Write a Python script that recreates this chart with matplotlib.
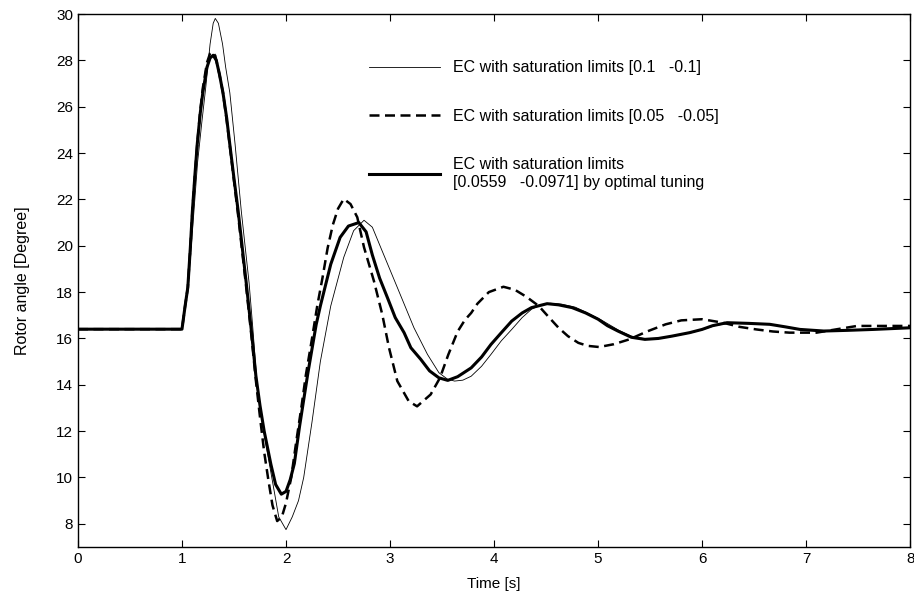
#!/usr/bin/env python3

import matplotlib
matplotlib.use('Agg')
import matplotlib.pyplot as plt

plt.rcParams['font.family'] = ['Liberation Sans', 'DejaVu Sans']

# EC with saturation limits [0.1 -0.1]
t_thin = [0, 1.0, 1.03, 1.06, 1.10, 1.15, 1.19, 1.23, 1.27, 1.30, 1.32, 1.35, 1.39, 1.42,
          1.46, 1.51, 1.57, 1.645, 1.68, 1.72, 1.80, 1.87, 1.93, 2.0, 2.06, 2.12, 2.17,
          2.25, 2.33, 2.43, 2.555, 2.65, 2.75, 2.83, 2.91, 3.07, 3.23, 3.36, 3.47, 3.55,
          3.62, 3.70, 3.78, 3.88, 3.97, 4.07, 4.17, 4.27, 4.36,
          4.45, 4.54, 4.65, 4.78, 4.90, 5.03, 5.2, 5.32, 5.47, 5.6, 5.73, 5.9, 6.02,
          6.12, 6.26, 6.45, 6.66, 6.82, 6.96, 7.18, 7.4, 7.65, 8.0]
y_thin = [16.4, 16.4, 17.3, 18.2, 20.6, 23.6, 25.3, 26.9, 28.7, 29.6, 29.81, 29.6, 28.7, 27.7,
          26.6, 24.4, 21.5, 18.4, 16.5, 14.16, 11.6, 9.83, 8.3, 7.75, 8.3, 9.0, 10.0,
          12.4, 15.0, 17.4, 19.5, 20.65, 21.1, 20.8, 19.93, 18.2, 16.46, 15.31, 14.52, 14.25,
          14.16, 14.2, 14.37, 14.8, 15.31, 15.9, 16.39, 16.9, 17.26,
          17.45, 17.52, 17.48, 17.35, 17.1, 16.8, 16.35, 16.1, 15.97, 16.0, 16.1, 16.25, 16.4,
          16.55, 16.66, 16.65, 16.6, 16.5, 16.39, 16.32, 16.35, 16.39, 16.46]

# EC with saturation limits [0.05 -0.05]
t_dash = [0, 1.0, 1.03, 1.056, 1.08, 1.10, 1.125, 1.147, 1.175, 1.20, 1.24, 1.27, 1.29, 1.32,
          1.36, 1.394, 1.43, 1.46, 1.50, 1.54, 1.58, 1.62, 1.67, 1.71, 1.75, 1.79, 1.83,
          1.87, 1.915, 1.96, 2.00, 2.05, 2.10, 2.15, 2.19, 2.25, 2.30, 2.35, 2.40, 2.45,
          2.50, 2.555, 2.62, 2.685, 2.75, 2.845, 2.925, 2.99, 3.07, 3.18, 3.26, 3.39,
          3.48, 3.56, 3.65, 3.72, 3.78, 3.84, 3.95, 4.09, 4.2, 4.31, 4.43, 4.52,
          4.62, 4.71, 4.81, 4.9, 5.01, 5.15, 5.30, 5.47, 5.65, 5.8, 6.0, 6.2, 6.36, 6.52,
          6.68, 6.84, 7.1, 7.3, 7.49, 8.0]
y_dash = [16.4, 16.4, 17.4, 18.2, 19.9, 21.5, 23.1, 24.4, 25.8, 26.8, 27.9, 28.3, 28.37, 28.2,
          27.4, 26.6, 25.4, 24.3, 22.8, 21.3, 19.7, 18.1, 16.0, 14.2, 12.6, 11.1, 9.9,
          8.8, 8.12, 8.3, 8.9, 10.0, 11.6, 13.1, 14.4, 16.0, 17.4, 18.6, 19.9, 20.9,
          21.6, 22.02, 21.8, 21.23, 19.93, 18.48, 17.04, 15.6, 14.16, 13.29, 13.07, 13.58,
          14.3, 15.3, 16.3, 16.8, 17.1, 17.5, 18.0, 18.23, 18.1, 17.8, 17.4, 16.95,
          16.46, 16.1, 15.81, 15.68, 15.63, 15.75, 15.96, 16.3, 16.61, 16.78, 16.83, 16.68, 16.5, 16.39,
          16.3, 16.25, 16.25, 16.4, 16.54, 16.54]

# EC with saturation limits [0.0559 -0.0971] by optimal tuning
t_opt = [0, 1.0, 1.03, 1.056, 1.08, 1.10, 1.125, 1.147, 1.175, 1.20, 1.24, 1.27, 1.30, 1.33,
         1.36, 1.394, 1.43, 1.459, 1.50, 1.54, 1.58, 1.62, 1.67, 1.71, 1.75, 1.79, 1.855,
         1.90, 1.955, 2.0, 2.04, 2.08, 2.13, 2.21, 2.29, 2.33, 2.43, 2.52, 2.60, 2.70,
         2.77, 2.83, 2.90, 2.975, 3.05, 3.135, 3.20, 3.295, 3.38, 3.47, 3.555, 3.65, 3.78,
         3.88, 3.97, 4.07, 4.17, 4.27, 4.36, 4.51, 4.62, 4.75, 4.88, 5.0, 5.09, 5.19, 5.32,
         5.45, 5.58, 5.71, 5.88, 6.0, 6.1, 6.24, 6.45, 6.65, 6.8, 6.94, 7.17, 7.4, 7.65, 8.0]
y_opt = [16.4, 16.4, 17.4, 18.2, 19.9, 21.5, 23.1, 24.4, 25.7, 26.6, 27.7, 28.1, 28.22, 28.0,
         27.4, 26.6, 25.5, 24.4, 22.9, 21.5, 19.9, 18.3, 16.2, 14.4, 13.1, 12.0, 10.56,
         9.7, 9.28, 9.4, 9.9, 10.6, 12.2, 14.5, 16.6, 17.4, 19.2, 20.36, 20.85, 21.0,
         20.6, 19.6, 18.6, 17.76, 16.9, 16.25, 15.6, 15.1, 14.6, 14.3, 14.19, 14.35, 14.73,
         15.2, 15.74, 16.25, 16.75, 17.1, 17.33, 17.5, 17.45, 17.33, 17.1, 16.83, 16.55, 16.32, 16.05,
         15.96, 16.0, 16.1, 16.25, 16.39, 16.55, 16.68, 16.65, 16.61, 16.5, 16.39, 16.32, 16.35, 16.39, 16.46]

labels = ['EC with saturation limits [0.1   -0.1]',
          'EC with saturation limits [0.05   -0.05]',
          'EC with saturation limits\n[0.0559   -0.0971] by optimal tuning']

fig = plt.figure(figsize=(9.14, 5.99), dpi=100)
ax = fig.add_axes([0.0853, 0.0868, 0.9105, 0.8898])

ax.plot(t_thin, y_thin, color='black', lw=0.6, label=labels[0])
ax.plot(t_dash, y_dash, color='black', lw=1.8, ls=(0, (4, 2.2)), label=labels[1])
ax.plot(t_opt, y_opt, color='black', lw=2.2, label=labels[2])

ax.set_xlim(0, 8)
ax.set_ylim(7, 30)
ax.set_xticks(range(0, 9))
ax.set_yticks(range(8, 31, 2))
ax.tick_params(direction='in', top=True, right=True, labelsize=11, length=5, width=0.8)
for s in ax.spines.values():
    s.set_linewidth(1.0)

ax.set_xlabel('Time [s]', fontsize=11, labelpad=8)
ax.set_ylabel('Rotor angle [Degree]', fontsize=11.5, labelpad=19)

ax.legend(loc='upper left', bbox_to_anchor=(0.333, 0.94), frameon=False, fontsize=11.5,
          handlelength=4.4, handletextpad=0.8, labelspacing=2.1)

plt.savefig('out.png', dpi=100)
